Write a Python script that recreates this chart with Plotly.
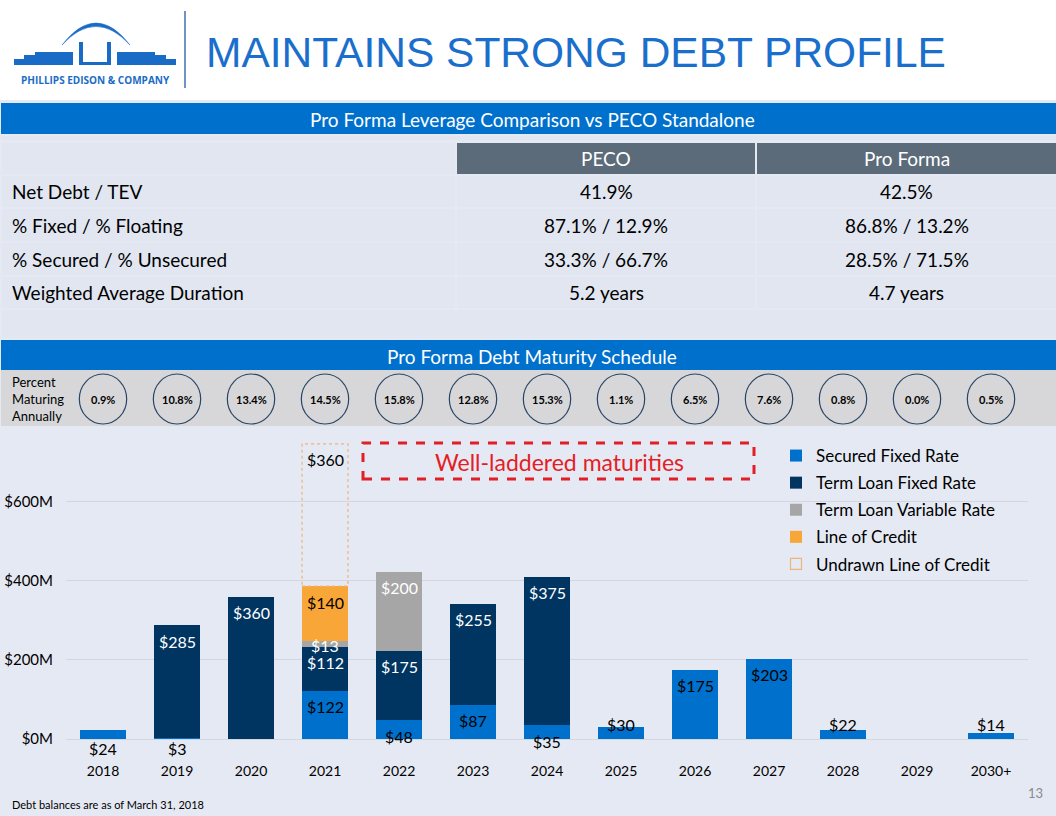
import plotly.graph_objects as go

W, H = 1056, 816

# ---------------- data ----------------
years = ["2018", "2019", "2020", "2021", "2022", "2023", "2024",
         "2025", "2026", "2027", "2028", "2029", "2030+"]
secured_fixed = [24, 3, 0, 122, 48, 87, 35, 30, 175, 203, 22, 0, 14]
term_loan_fixed = [0, 285, 360, 112, 175, 255, 375, 0, 0, 0, 0, 0, 0]
term_loan_variable = [0, 0, 0, 13, 200, 0, 0, 0, 0, 0, 0, 0, 0]
line_of_credit = [0, 0, 0, 140, 0, 0, 0, 0, 0, 0, 0, 0, 0]
undrawn_line_of_credit = [0, 0, 0, 360, 0, 0, 0, 0, 0, 0, 0, 0, 0]
pct_maturing = ["0.9%", "10.8%", "13.4%", "14.5%", "15.8%", "12.8%", "15.3%",
                "1.1%", "6.5%", "7.6%", "0.8%", "0.0%", "0.5%"]
y_tick_vals = [0, 200, 400, 600]
y_tick_text = ["$0M", "$200M", "$400M", "$600M"]

table_header = ["PECO", "Pro Forma"]
table_metrics = ["Net Debt / TEV", "% Fixed / % Floating",
                 "% Secured / % Unsecured", "Weighted Average Duration"]
peco_values = ["41.9%", "87.1% / 12.9%", "33.3% / 66.7%", "5.2 years"]
pro_forma_values = ["42.5%", "86.8% / 13.2%", "28.5% / 71.5%", "4.7 years"]

# ---------------- styles ----------------
FONT = "Lato"
BG = "#E5E9F3"
ROW_BG = "#E1E6F1"
BAND = "#0070CD"
C_SEC = "#0070CD"
C_TLF = "#003562"
C_TLV = "#A6A6A6"
C_LOC = "#F8A637"
C_UND = "#EDB57A"
LOGO = "#1A6BC6"


def X(px):
    return px / W


def Y(py):
    return 1 - py / H


PLOT_X0, PLOT_X1 = 66, 1028
PLOT_Y0, PLOT_Y1 = 739, 430
Y_MAX = 782
BARGAP = 0.38
N = len(years)
idx = list(range(N))

fig = go.Figure()

series = [
    ("Secured Fixed Rate", secured_fixed, C_SEC, "black"),
    ("Term Loan Fixed Rate", term_loan_fixed, C_TLF, "white"),
    ("Term Loan Variable Rate", term_loan_variable, C_TLV, "white"),
    ("Line of Credit", line_of_credit, C_LOC, "black"),
]
for i, (name, vals, col, _) in enumerate(series):
    fig.add_trace(go.Bar(
        x=idx, y=vals, name=name, marker=dict(color=col, line=dict(width=0)),
        legendgroup=name, legendrank=i + 1,
    ))
fig.add_trace(go.Bar(
    x=idx, y=undrawn_line_of_credit, name="Undrawn Line of Credit",
    marker=dict(color="rgba(0,0,0,0)", line=dict(width=0)),
    showlegend=False, legendgroup="undrawn_bar",
))
fig.add_trace(go.Scatter(
    x=[None], y=[None], mode="markers", name="Undrawn Line of Credit",
    marker=dict(symbol="square-open", size=11, color=C_UND, line=dict(width=1.2)),
    legendgroup="Undrawn Line of Credit", legendrank=5,
))

shapes = []
annotations = []


def txt(text, x, y, size, color="black", xanchor="center", yanchor="middle",
        xref="paper", yref="paper", family=FONT, **kw):
    annotations.append(dict(text=text, x=x, y=y, xref=xref, yref=yref, showarrow=False,
                            xanchor=xanchor, yanchor=yanchor,
                            font=dict(family=family, size=size, color=color), **kw))


def rect(x0, x1, top, bot, fill, **kw):
    d = dict(type="rect", xref="paper", yref="paper", x0=X(x0), x1=X(x1),
             y0=Y(bot), y1=Y(top), fillcolor=fill, line=dict(width=0))
    d.update(kw)
    shapes.append(d)


# ---------- page decorations ----------
rect(0, 1056, 0, 100, "white", layer="below")


def pth(points):
    return "M " + " L ".join(f"{X(a):.5f},{Y(b):.5f}" for a, b in points) + " Z"


left_block = [(14, 65), (14, 59), (24, 59), (24, 55), (35, 55), (35, 52), (73, 52), (73, 65)]
right_block = [(117, 52), (155, 52), (155, 55), (166, 55), (166, 59), (176, 59), (176, 65), (117, 65)]
u_shape = [(79, 42), (83, 42), (83, 62), (107, 62), (107, 42), (111, 42), (111, 65), (79, 65)]
for poly in (left_block, right_block, u_shape):
    shapes.append(dict(type="path", xref="paper", yref="paper", path=pth(poly),
                       fillcolor=LOGO, line=dict(width=0)))
arc = (f"M {X(62):.5f},{Y(45):.5f} Q {X(96):.5f},{Y(1):.5f} {X(130):.5f},{Y(45):.5f} "
       f"Q {X(96):.5f},{Y(8):.5f} {X(62):.5f},{Y(45):.5f} Z")
shapes.append(dict(type="path", xref="paper", yref="paper", path=arc,
                   fillcolor=LOGO, line=dict(color=LOGO, width=0.5)))
txt("<b>PHILLIPS EDISON & COMPANY</b>", X(95), Y(80), 10, LOGO, family="Open Sans")
shapes.append(dict(type="line", xref="paper", yref="paper", x0=X(185), x1=X(185),
                   y0=Y(11), y1=Y(88), line=dict(color="#3F6FB0", width=1.5)))
txt("MAINTAINS STRONG DEBT PROFILE", X(204), Y(53), 42.5, "#1A6FCC", xanchor="left",
    family="Liberation Sans, Arial")

# band 1
rect(1, 1056, 103, 134, BAND)
txt("Pro Forma Leverage Comparison vs PECO Standalone", X(532), Y(119), 19, "white")

# table
rect(1, 1056, 136, 140, ROW_BG)
col_edges = [(2, 455), (457, 755), (757, 1056)]
header_top, header_bot = 143, 174
rows = [(176, 207), (209, 241), (243, 275), (277, 308)]
rect(2, 455, header_top, header_bot, ROW_BG)
for j, label in enumerate(table_header):
    c0, c1 = col_edges[j + 1]
    rect(c0, c1, header_top, header_bot, "#5B6B7A")
    txt(label, X((c0 + c1) / 2), Y((header_top + header_bot) / 2), 19, "white")
for r, (t, b) in enumerate(rows):
    for c0, c1 in col_edges:
        rect(c0, c1, t, b, ROW_BG)
    ym = Y((t + b) / 2)
    txt(table_metrics[r], X(10), ym, 19, xanchor="left")
    txt(peco_values[r], X(sum(col_edges[1]) / 2), ym, 19)
    txt(pro_forma_values[r], X(sum(col_edges[2]) / 2), ym, 19)
rect(2, 1056, 310, 338, ROW_BG)

# band 2
rect(1, 1056, 340, 370, BAND)
txt("Pro Forma Debt Maturity Schedule", X(532), Y(356), 19, "white")
# percent strip
rect(1, 1056, 370, 426, "#D7D7D9")
txt("Percent<br>Maturing<br>Annually", X(10), Y(399), 13, xanchor="left", align="left")
for i in idx:
    shapes.append(dict(type="circle", xref="x", yref="paper",
                       x0=i - 0.32, x1=i + 0.32, y0=Y(424), y1=Y(374),
                       line=dict(color="#2A4566", width=1.2), fillcolor="rgba(0,0,0,0)"))
    txt(f"<b>{pct_maturing[i]}</b>", i, Y(399), 11, xref="x")

# ---------- bar labels ----------
overrides = {
    ("Secured Fixed Rate", "2018"): ("zero", -9),
    ("Secured Fixed Rate", "2019"): ("zero", -9),
    ("Secured Fixed Rate", "2025"): ("top", 3),
    ("Secured Fixed Rate", "2028"): ("top", 6),
    ("Secured Fixed Rate", "2030+"): ("top", 9),
    ("Term Loan Variable Rate", "2021"): ("top", -4),
}
label_series = series + [("Undrawn Line of Credit", undrawn_line_of_credit, C_UND, "black")]
cum = [0] * N
for name, vals, col, tcol in label_series:
    for i, yr in enumerate(years):
        v = vals[i]
        if v == 0:
            continue
        top = cum[i] + v
        mode, shift = overrides.get((name, yr), ("top", -16))
        yy = 0 if mode == "zero" else top
        txt(f"${v}", i, yy, 16, tcol, xref="x", yref="y", yshift=shift)
        if name == "Undrawn Line of Credit":
            half = (1 - BARGAP) / 2
            shapes.append(dict(type="rect", xref="x", yref="y", x0=i - half, x1=i + half,
                               y0=cum[i], y1=top,
                               line=dict(color=C_UND, width=1.2, dash="dot"),
                               fillcolor="rgba(0,0,0,0)"))
    cum = [c + v for c, v in zip(cum, vals)]

# well-laddered callout
shapes.append(dict(type="rect", xref="paper", yref="paper", x0=X(363), x1=X(754),
                   y0=Y(479), y1=Y(443), line=dict(color="#E41E26", width=3, dash="dash"),
                   fillcolor="rgba(0,0,0,0)"))
txt("Well-laddered maturities", X(559), Y(462), 23, "#E41E26")

# footnote + page number
txt("Debt balances are as of March 31, 2018", X(10), Y(804), 11, xanchor="left")
txt("13", X(1035), Y(793), 13, "#8A8A8A")

fig.update_layout(
    width=W, height=H,
    margin=dict(l=0, r=0, t=0, b=0, autoexpand=False),
    paper_bgcolor=BG, plot_bgcolor="rgba(0,0,0,0)",
    barmode="stack", bargap=BARGAP,
    font=dict(family=FONT, color="black"),
    shapes=shapes, annotations=annotations,
    showlegend=True, hovermode=False,
    legend=dict(x=X(776), y=Y(438), xanchor="left", yanchor="top",
                bgcolor="rgba(0,0,0,0)", font=dict(family=FONT, size=17, color="black"),
                traceorder="grouped", tracegroupgap=2, itemclick=False),
    xaxis=dict(domain=[X(PLOT_X0), X(PLOT_X1)], range=[-0.5, N - 0.5],
               tickvals=idx, ticktext=years, automargin=False,
               showgrid=False, zeroline=False, showline=False, ticks="",
               tickfont=dict(family=FONT, size=14, color="black"),
               ticklabelstandoff=22),
    yaxis=dict(domain=[Y(PLOT_Y0), Y(PLOT_Y1)], range=[0, Y_MAX], automargin=False,
               tickvals=y_tick_vals, ticktext=y_tick_text,
               showgrid=True, gridcolor="#D2D6E0", gridwidth=1,
               zeroline=True, zerolinecolor="#D2D6E0", zerolinewidth=1,
               showline=False, ticks="",
               tickfont=dict(family=FONT, size=15, color="black"),
               ticklabelstandoff=12),
)

fig.write_html("out.html", config={"displayModeBar": False},
               post_script="document.body.style.margin='0';document.body.style.padding='0';")
